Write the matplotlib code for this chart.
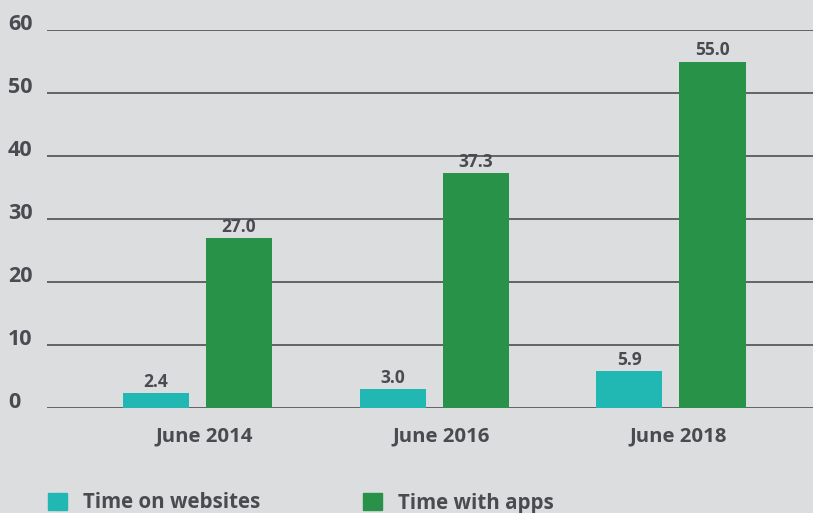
import matplotlib.pyplot as plt
import matplotlib.patches as mpatches
import numpy as np

plt.rcParams['font.family'] = ['Open Sans', 'DejaVu Sans']

categories = ['June 2014', 'June 2016', 'June 2018']
websites = [2.4, 3.0, 5.9]
apps = [27.0, 37.3, 55.0]
series_names = ['Time on websites', 'Time with apps']
y_ticks = [0, 10, 20, 30, 40, 50, 60]

bg = '#dcdddf'
text_color = '#4a4a50'
cyan = '#21b8b3'
green = '#279248'

fig = plt.figure(figsize=(8.13, 5.13), dpi=100, facecolor=bg)
ax = fig.add_axes([47 / 813, 1 - 408 / 513, 1 - 47 / 813, (408 - 30) / 513])
ax.set_facecolor(bg)

x = np.arange(len(categories))
width = 0.279
offset = 0.1755

bars_web = ax.bar(x - offset, websites, width, color=cyan, zorder=3)
bars_app = ax.bar(x + offset, apps, width, color=green, zorder=3)

for bars, vals in [(bars_web, websites), (bars_app, apps)]:
    for bar, v in zip(bars, vals):
        ax.annotate('{:.1f}'.format(v), (bar.get_x() + bar.get_width() / 2, v),
                    xytext=(0, 1.5), textcoords='offset points', ha='center', va='bottom',
                    fontsize=12.5, fontweight='bold', color=text_color)

ax.set_xlim(-0.636, 2.6)
ax.set_ylim(0, 60)
ax.set_yticks(y_ticks)
ax.set_yticklabels([str(t) for t in y_ticks], ha='left', va='baseline',
                   fontsize=15.5, fontweight='bold', color=text_color)
ax.tick_params(axis='y', length=0, pad=28)
ax.set_xticks(x + 0.03)
ax.set_xticklabels(categories, fontsize=14.7, fontweight='bold', color=text_color)
ax.tick_params(axis='x', length=0, pad=13)

ax.yaxis.grid(True, color='#5a5a5e', linewidth=1.3, zorder=1)
ax.set_axisbelow(True)
for s in ax.spines.values():
    s.set_visible(False)

handles = [mpatches.Patch(color=cyan), mpatches.Patch(color=green)]
fig.legend(handles, series_names, loc='center left', bbox_to_anchor=(48 / 813, 1 - 503 / 513),
           ncol=2, frameon=False, borderpad=0, borderaxespad=0,
           handlelength=0.93, handleheight=0.93, handletextpad=0.77, columnspacing=5.0,
           prop={'size': 14.8, 'weight': 'bold'}, labelcolor=text_color)

fig.savefig('out.png', dpi=100, facecolor=bg)
